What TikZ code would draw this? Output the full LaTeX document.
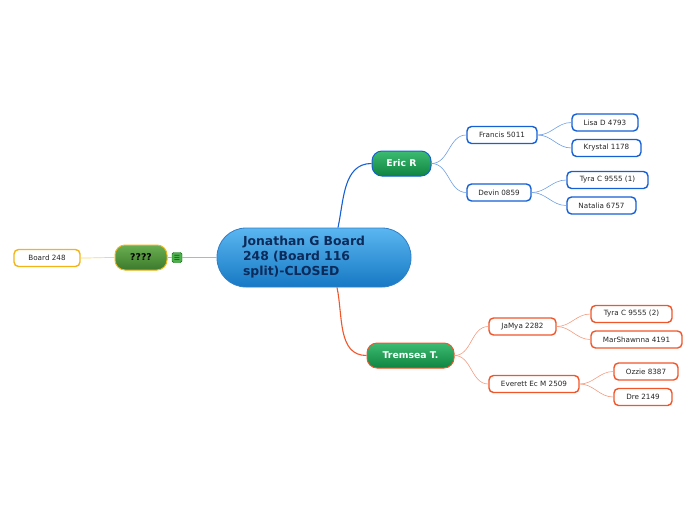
\documentclass[tikz,border=0pt]{standalone}
\usepackage{fontspec}
\setmainfont{DejaVu Sans}
\usetikzlibrary{arrows}
\usetikzlibrary{shapes}
\usetikzlibrary{positioning}

\definecolor{rootTop}{HTML}{5BB6F0}
\definecolor{rootBot}{HTML}{1679C4}
\definecolor{rootLine}{HTML}{2F7FC8}
\definecolor{rootText}{HTML}{0C2A5A}
\definecolor{greenTop}{HTML}{3DBB72}
\definecolor{greenBot}{HTML}{0F8440}
\definecolor{oliveTop}{HTML}{6AAE50}
\definecolor{oliveBot}{HTML}{3C7A2C}
\definecolor{blueLine}{HTML}{1560D4}
\definecolor{blueThin}{HTML}{6E9FE6}
\definecolor{redLine}{HTML}{F0562A}
\definecolor{redThin}{HTML}{F59C80}
\definecolor{goldLine}{HTML}{F3B418}
\definecolor{goldThin}{HTML}{F7D778}

\tikzset{
  rootBox/.style={draw=rootLine, line width=0.8pt, top color=rootTop, bottom color=rootBot,
    rounded corners=29pt, minimum width=194pt, minimum height=59pt, text width=142pt,
    align=left, text=rootText, font=\fontsize{12.4}{15}\selectfont\bfseries, inner sep=0pt},
  mainBox/.style={line width=1pt, top color=greenTop, bottom color=greenBot,
    rounded corners=10pt, minimum height=25pt, inner xsep=0pt, text=white,
    font=\fontsize{9.3}{10}\selectfont\bfseries},
  leafBox/.style={draw, fill=white, line width=1.4pt, rounded corners=4.5pt,
    minimum height=17pt, inner xsep=0pt, text=black!85, font=\fontsize{7.2}{8}\selectfont},
  blueLeaf/.style={leafBox, draw=blueLine},
  redLeaf/.style={leafBox, draw=redLine},
  goldLeaf/.style={leafBox, draw=goldLine},
}

\begin{document}
\begin{tikzpicture}[x=1pt, y=-1pt]
  \useasboundingbox (0,0) rectangle (696,520);
  %% centre topic
  \node[rootBox] (root) at (314,257.5) {Jonathan G Board 248 (Board 116 split)-CLOSED};
  %% main topics
  \node[mainBox, draw=blueLine, minimum width=59pt] (ericR) at (401.5,163.5) {Eric R};
  \node[mainBox, draw=redLine, minimum width=87pt] (tremsea) at (410.5,355.5) {Tremsea T.};
  \node[mainBox, draw=goldLine, top color=oliveTop, bottom color=oliveBot, text=black,
        minimum width=52pt] (unknown) at (141,257.5) {????};
  \node[draw=green!40!black, fill=green!55!black!70, rounded corners=1.5pt,
        minimum size=10pt, inner sep=0pt, text=black!80,
        font=\fontsize{7}{7}\selectfont] (notes) at (177,257.5) {☰};
  \node[goldLeaf, minimum width=66pt] (board) at (47,258) {Board 248};
  %% Eric R branch
  \node[blueLeaf, minimum width=70pt] (francis) at (502,135) {Francis 5011};
  \node[blueLeaf, minimum width=64pt] (devin) at (499,192.5) {Devin 0859};
  \node[blueLeaf, minimum width=66pt] (lisa) at (605,122.5) {Lisa D 4793};
  \node[blueLeaf, minimum width=69pt] (krystal) at (606.5,148) {Krystal 1178};
  \node[blueLeaf, minimum width=81pt] (tyraOne) at (607.5,180) {Tyra C 9555 (1)};
  \node[blueLeaf, minimum width=69pt] (natalia) at (601.5,205.5) {Natalia 6757};
  %% Tremsea T. branch
  \node[redLeaf, minimum width=67pt] (jamya) at (522.5,326.5) {JaMya 2282};
  \node[redLeaf, minimum width=90pt] (everett) at (534,384) {Everett Ec M 2509};
  \node[redLeaf, minimum width=81pt] (tyraTwo) at (631.5,314) {Tyra C 9555 (2)};
  \node[redLeaf, minimum width=91pt] (marshawnna) at (636.5,339.5) {MarShawnna 4191};
  \node[redLeaf, minimum width=64pt] (ozzie) at (646,371.5) {Ozzie 8387};
  \node[redLeaf, minimum width=58pt] (dre) at (643,397) {Dre 2149};
  %% connectors
  \draw[blueLine, line width=1.1pt] ([xshift=24pt]root.north) to[out=78, in=180] (ericR.west);
  \draw[redLine, line width=1.1pt] ([xshift=23pt]root.south) to[out=-78, in=180] (tremsea.west);
  \draw[goldLine, line width=0.8pt] (root.west) -- (notes.east);
  \draw[goldLine, line width=0.8pt] (notes.west) -- (unknown.east);
  \draw[goldThin, line width=0.7pt] (unknown.west) to[out=180, in=0] (board.east);
  \foreach \a/\b in {ericR/francis, ericR/devin, francis/lisa, francis/krystal,
                     devin/tyraOne, devin/natalia}
    \draw[blueThin, line width=0.6pt] (\a.east) to[out=0, in=180] (\b.west);
  \foreach \a/\b in {tremsea/jamya, tremsea/everett, jamya/tyraTwo, jamya/marshawnna,
                     everett/ozzie, everett/dre}
    \draw[redThin, line width=0.6pt] (\a.east) to[out=0, in=180] (\b.west);
\end{tikzpicture}
\end{document}
